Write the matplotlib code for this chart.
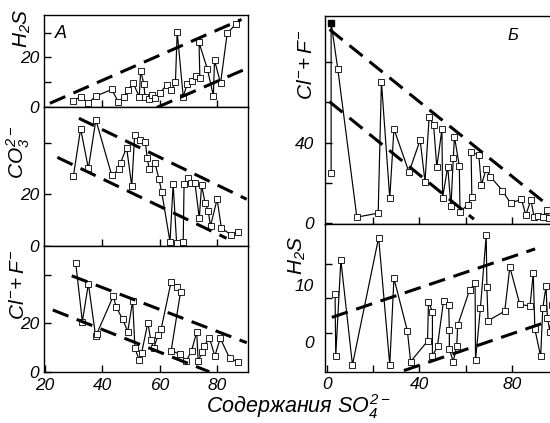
import matplotlib
matplotlib.use("Agg")
import matplotlib.pyplot as plt
from matplotlib.ticker import FixedLocator, NullFormatter

plt.rcParams.update({
    "font.family": ["Liberation Sans", "DejaVu Sans"],
    "font.style": "italic",
    "mathtext.fontset": "custom",
    "mathtext.rm": "Liberation Sans:italic",
    "mathtext.it": "Liberation Sans:italic",
    "mathtext.sf": "Liberation Sans:italic",
    "mathtext.bf": "Liberation Sans:italic:bold",
    "axes.linewidth": 1.0,
})

# ---- Panel A: sulfate content 20..90 ----
h2s_a_x = [29.7, 32.4, 35.1, 37.7, 43.2, 45.5, 47.4, 48.8, 50.7, 52.8, 53.3, 54.4, 54.8,
           56.2, 57.3, 58.4, 59.9, 62.3, 64.0, 65.4, 66.0, 68.1, 69.5, 71.0, 72.4, 73.9,
           73.6, 76.5, 78.6, 79.0, 81.1, 83.4, 86.3]
h2s_a_y = [2.3, 4.1, 1.6, 4.3, 7.0, 2.0, 3.8, 6.8, 9.5, 4.1, 14.6, 9.3, 4.1,
           3.0, 4.8, 3.4, 5.4, 8.8, 6.8, 10.1, 30.4, 4.1, 9.3, 10.6, 12.4, 11.8,
           26.1, 15.3, 4.5, 18.9, 9.5, 29.7, 33.4]
h2s_a_upper = ([21.7, 88.4], [1.4, 35.4])
h2s_a_lower = ([58.9, 90.2], [-0.3, 15.5])

co3_a_x = [29.9, 32.4, 35.1, 37.7, 43.2, 45.9, 46.3, 48.4, 50.2, 51.2, 53.1, 54.9,
           55.6, 56.3, 58.3, 59.7, 60.6, 63.5, 64.6, 65.8, 68.1, 68.4, 69.7, 70.7,
           72.2, 73.7, 74.5, 75.7, 76.8, 77.6, 79.9, 81.4, 84.9, 87.2]
co3_a_y = [27.3, 45.5, 30.1, 49.0, 27.5, 29.7, 32.3, 38.2, 23.2, 43.2, 41.2, 40.3,
           34.0, 29.7, 32.1, 25.8, 21.0, 1.6, 24.0, 1.2, 1.6, 24.0, 26.2, 24.3,
           24.3, 10.7, 23.6, 16.7, 13.6, 7.7, 18.1, 6.8, 4.2, 5.4]
co3_a_upper = ([31.8, 90.2], [49.6, 18.1])
co3_a_lower = ([24.3, 83.2], [34.4, 2.9])

clf_a_x = [30.7, 33.0, 35.1, 37.6, 38.0, 43.8, 44.7, 47.0, 48.8, 50.5, 51.3, 52.8,
           53.6, 55.8, 56.8, 57.8, 59.4, 60.4, 63.9, 65.8, 67.2, 63.9, 66.9, 69.2,
           71.0, 72.8, 73.3, 74.8, 75.4, 77.2, 79.1, 81.0, 84.3, 87.3]
clf_a_y = [44.8, 20.7, 36.3, 14.8, 15.6, 31.3, 26.9, 21.7, 16.6, 29.2, 9.7, 4.8,
           7.6, 20.3, 13.1, 9.7, 15.2, 17.5, 37.2, 35.1, 33.1, 8.7, 7.3, 4.5,
           8.6, 16.5, 4.5, 8.3, 10.6, 14.1, 6.5, 13.8, 5.5, 4.1]
clf_a_upper = ([29.3, 90.2], [39.6, 12.0])
clf_a_lower = ([22.7, 77.2], [25.5, 0.0])

# ---- Panel Б: sulfate content 0..100 ----
clf_b_x = [1.9, 1.9, 4.8, 13.0, 22.2, 23.6, 27.2, 29.0, 35.5, 40.3, 42.4, 44.2, 46.1,
           47.5, 49.7, 50.0, 52.2, 53.6, 54.6, 55.1, 57.2, 57.5, 60.9, 62.6, 62.3,
           65.6, 66.7, 68.8, 70.6, 75.8, 79.3, 84.0, 85.9, 88.1, 89.4, 91.3, 93.2,
           94.9, 95.9, 97.5]
clf_b_y = [25.1, 99.5, 76.4, 3.0, 5.0, 70.2, 12.4, 46.8, 25.3, 41.3, 20.6, 52.9, 48.8,
           27.8, 46.6, 12.7, 28.1, 8.3, 32.3, 43.0, 28.4, 5.8, 9.1, 13.2, 35.2,
           33.9, 19.0, 26.8, 23.1, 16.2, 9.9, 11.9, 4.1, 11.6, 3.3, 3.6, 3.3,
           6.6, 2.5, 7.0]
clf_b_upper = ([1.2, 93.5], [96.2, 10.7])
clf_b_lower = ([1.2, 63.5], [60.3, 2.0])

h2s_b_x = [3.6, 3.9, 6.1, 11.1, 22.4, 27.2, 29.0, 34.8, 36.2, 43.5, 43.9, 45.6, 45.6,
           47.8, 50.4, 52.6, 52.9, 52.9, 54.6, 56.1, 56.5, 61.6, 64.0, 64.2, 66.3,
           68.8, 69.1, 69.6, 76.8, 79.0, 83.3, 87.7, 89.1, 89.8, 92.3, 93.2, 94.6,
           95.2, 96.3, 97.2]
h2s_b_y = [8.4, -2.5, 14.4, -4.1, 18.4, -4.1, 11.2, 1.9, -3.5, 0.1, 7.1, 5.3, -2.6,
           -0.7, 7.2, 6.4, 2.1, -1.3, -3.5, -0.7, 2.9, 9.1, 10.3, -3.2, 5.9,
           18.8, 9.6, 3.7, 5.4, 13.2, 6.6, 6.3, 12.1, 2.2, -2.6, 5.9, 9.8,
           4.2, 1.8, 6.4]
h2s_b_upper = ([2.2, 89.9], [4.3, 16.4])
h2s_b_lower = ([33.3, 94.2], [-5.1, 3.4])

W, H = 550, 423
fig = plt.figure(figsize=(W / 100, H / 100), dpi=100)


def frame(l, t, r, b):
    return fig.add_axes([l / W, 1 - b / H, (r - l) / W, (b - t) / H])


def series(ax, x, y):
    ax.plot(x, y, color="black", lw=0.85, marker="s", ms=3.7, mfc="white",
            mec="black", mew=0.6, zorder=3)


def trend(ax, line):
    ax.plot(line[0], line[1], color="black", lw=2.2, dashes=(5.5, 2.9),
            dash_capstyle="butt", zorder=4)


def style(ax, pad):
    ax.tick_params(direction="in", length=5, width=1.0, labelsize=12.5,
                   top=False, right=False, pad=pad)


# left column
ax1 = frame(44, 15, 248, 107)
ax2 = frame(44, 107, 248, 246)
ax3 = frame(44, 246, 248, 372)
for ax in (ax1, ax2, ax3):
    ax.set_xlim(19.65, 90.65)
    style(ax, 3.5)
    ax.tick_params(axis="x", pad=4.5)

series(ax1, h2s_a_x, h2s_a_y)
trend(ax1, h2s_a_upper)
trend(ax1, h2s_a_lower)
ax1.set_ylim(-0.1, 37.2)
ax1.set_yticks([0, 10, 20, 30], ["0", "", "20", ""])
ax1.set_xticks([40, 60, 80], ["", "", ""])

series(ax2, co3_a_x, co3_a_y)
trend(ax2, co3_a_upper)
trend(ax2, co3_a_lower)
ax2.set_ylim(-0.1, 54.0)
ax2.set_yticks([0, 20, 40], ["0", "20", ""])
ax2.set_xticks([40, 60, 80], ["", "", ""])

series(ax3, clf_a_x, clf_a_y)
trend(ax3, clf_a_upper)
trend(ax3, clf_a_lower)
ax3.set_ylim(-0.1, 51.9)
ax3.set_yticks([0, 20, 40], ["0", "20", ""])
ax3.set_xticks([20, 40, 60, 80], ["20", "40", "60", "80"])

# right column (runs past the right edge of the canvas)
ax4 = frame(325, 15.7, 562, 224)
ax5 = frame(325, 224, 562, 371.7)
for ax in (ax4, ax5):
    ax.set_xlim(-0.74, 101.5)
    style(ax, 8)
    ax.tick_params(axis="x", pad=3.5)

series(ax4, clf_b_x, clf_b_y)
ax4.plot(clf_b_x[1], clf_b_y[1], marker="s", ms=3.9, mfc="black", mec="black",
         ls="none", zorder=5)
trend(ax4, clf_b_upper)
trend(ax4, clf_b_lower)
ax4.set_ylim(-0.4, 103.0)
ax4.set_yticks([0, 20, 40, 60, 80], ["0", "", "40", "", ""])
ax4.set_xticks([20, 40, 60, 80], ["", "", "", ""])

series(ax5, h2s_b_x, h2s_b_y)
trend(ax5, h2s_b_upper)
trend(ax5, h2s_b_lower)
ax5.set_ylim(-5.3, 20.8)
ax5.set_yticks([0, 10], ["0", "10"])
ax5.tick_params(axis="y", which="major", length=0)
ax5.yaxis.set_minor_locator(FixedLocator([1.5, 7.7, 13.8]))
ax5.yaxis.set_minor_formatter(NullFormatter())
ax5.tick_params(axis="y", which="minor", direction="in", length=5, width=1.0)
ax5.set_xticks([0, 20, 40, 60, 80], ["0", "", "40", "", "80"])

# axis titles
lab = dict(rotation=90, ha="center", va="center", fontsize=15)
fig.text(22 / W, 1 - 28 / H, r"$H_2S$", **lab)
fig.text(18 / W, 1 - 152 / H, r"$CO_3^{2-}$", **lab)
fig.text(18 / W, 1 - 285 / H, r"$Cl^{-}\!+F^{-}$", **lab)
fig.text(307 / W, 1 - 65 / H, r"$Cl^{-}\!+F^{-}$", **lab)
fig.text(297 / W, 1 - 255 / H, r"$H_2S$", **lab)

fig.text(61 / W, 1 - 33 / H, "A", ha="center", va="center", fontsize=13)
fig.text(513 / W, 1 - 35 / H, "Б", ha="center", va="center", fontsize=12)

fig.text(298 / W, 1 - 413 / H, r"Содержания $SO_4^{2-}$", ha="center",
         va="baseline", fontsize=15.5)

fig.savefig("out.png", dpi=100)
